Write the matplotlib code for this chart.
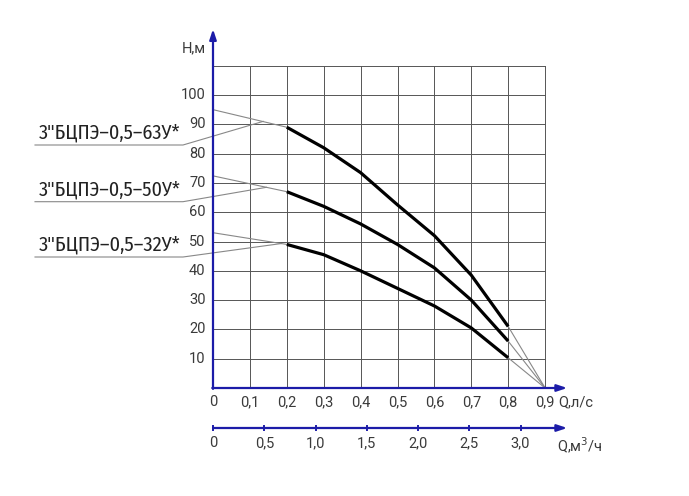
import matplotlib
matplotlib.use("Agg")
import matplotlib.pyplot as plt
from matplotlib import font_manager
import numpy as np

# ---- data ----
q_ls = [0.2, 0.3, 0.4, 0.5, 0.6, 0.7, 0.8]
h_63 = [89, 82, 73.5, 62.5, 52, 38.5, 21]
h_50 = [67, 62, 56, 49, 41, 30, 16]
h_32 = [49, 45.5, 40, 34, 28, 20.5, 10.3]
h0_63, h0_50, h0_32 = 95, 72.4, 53
pump_labels = ['3"БЦПЭ–0,5–63У*', '3"БЦПЭ–0,5–50У*', '3"БЦПЭ–0,5–32У*']
q_zero = 0.9
x_ticks = [0, 0.1, 0.2, 0.3, 0.4, 0.5, 0.6, 0.7, 0.8, 0.9]
x_tick_labels = ["0", "0,1", "0,2", "0,3", "0,4", "0,5", "0,6", "0,7", "0,8", "0,9"]
m3_ticks = [0, 0.5, 1.0, 1.5, 2.0, 2.5, 3.0]
m3_tick_labels = ["0", "0,5", "1,0", "1,5", "2,0", "2,5", "3,0"]
y_ticks = [10, 20, 30, 40, 50, 60, 70, 80, 90, 100]

BLUE = "#1c1ca8"
GRID = "#555555"
TXT = "#3a3a3a"

needed = set("".join(pump_labels))
names = sorted({f.name for f in font_manager.fontManager.ttflist})
NARROW = None
for f in font_manager.fontManager.ttflist:
    if ("Narrow" in f.name or "Condensed" in f.name) and f.weight in (400, "normal", "regular") and f.style == "normal":
        try:
            cmap = font_manager.get_font(f.fname).get_charmap()
            if all(ord(c) in cmap for c in needed):
                NARROW = f.name
                break
        except Exception:
            pass
if NARROW is None:
    NARROW = "Roboto" if "Roboto" in names else "DejaVu Sans"
TICKF = "Roboto" if "Roboto" in names else "DejaVu Sans"

fig = plt.figure(figsize=(6.89, 4.96), dpi=100)
ax = fig.add_axes([0, 0, 1, 1])
ax.set_xlim(-213 / 369, (689 - 213) / 369)
ax.set_ylim(-108 / 2.93, 388 / 2.93)
ax.axis("off")

def px_x(p):
    return (p - 213) / 369

def px_y(p):
    return (388 - p) / 2.93

# grid
for x in x_ticks[1:]:
    ax.plot([x, x], [0, 110], color=GRID, lw=0.7, zorder=1)
for y in y_ticks + [110]:
    ax.plot([0, 0.9], [y, y], color=GRID, lw=0.7, zorder=1)

# axes arrows
aprops = dict(arrowstyle="-|>,head_length=0.6,head_width=0.2", color=BLUE, lw=1.6, shrinkA=0, shrinkB=0)
ax.annotate("", xy=(0, 122.5), xytext=(0, -0.3), arrowprops=aprops, zorder=5)
ax.annotate("", xy=(0.96, 0), xytext=(-0.002, 0), arrowprops=aprops, zorder=5)
y2 = -13.65
ax.annotate("", xy=(0.96, y2), xytext=(0, y2), arrowprops=aprops, zorder=5)
for m in m3_ticks:
    xq = m / 3.6
    ax.plot([xq, xq], [y2 - 0.6, y2 + 0.6], color=BLUE, lw=1.4, zorder=5)

# tick labels
fs = 10.5
tk = dict(fontsize=fs, color=TXT, family=[TICKF, "DejaVu Sans"])
for x, lab in zip(x_ticks, x_tick_labels):
    ax.text(x, -4.8, lab, ha="center", va="center", **tk)
ax.text(px_x(558), -4.8, "Q,л/с", ha="left", va="center", **tk)
for m, lab in zip(m3_ticks, m3_tick_labels):
    ax.text(m / 3.6, -18.8, lab, ha="center", va="center", **tk)
ax.text(px_x(557), px_y(446), "Q,м$^3$/ч", ha="left", va="center", **tk)
for y in y_ticks:
    ax.text(-0.02, y, str(y), ha="right", va="center", **tk)
ax.text(-0.02, 116, "H,м", ha="right", va="center", **tk)

# curves + extension lines
for hs, h0 in [(h_63, h0_63), (h_50, h0_50), (h_32, h0_32)]:
    ax.plot([0, q_ls[0]], [h0, hs[0]], color="#888888", lw=0.8, zorder=3)
    ax.plot([q_ls[-1], q_zero], [hs[-1], 0], color="#888888", lw=0.8, zorder=3)
    ax.plot(q_ls, hs, color="black", lw=2.3, solid_capstyle="butt", solid_joinstyle="round", zorder=4)

# pump labels with leaders
lab_y_px = [145, 201.7, 257]
leader_end = [(0.136, 91.0), (0.145, 68.5), (0.185, 49.3)]
renderer = fig.canvas.get_renderer()
for lab, ypx, (qe, he) in zip(pump_labels, lab_y_px, leader_end):
    yh = px_y(ypx)
    ax.plot([px_x(35), px_x(183), qe], [yh, yh, he], color="#888888", lw=0.8, zorder=3)
    t = ax.text(px_x(39), yh + 0.8, lab, ha="left", va="bottom", fontsize=14,
                color="#222222", family=[NARROW, "DejaVu Sans"])
    w = t.get_window_extent(renderer).width
    t.set_fontsize(14 * 142.0 / w)

fig.savefig("out.png", dpi=100)
